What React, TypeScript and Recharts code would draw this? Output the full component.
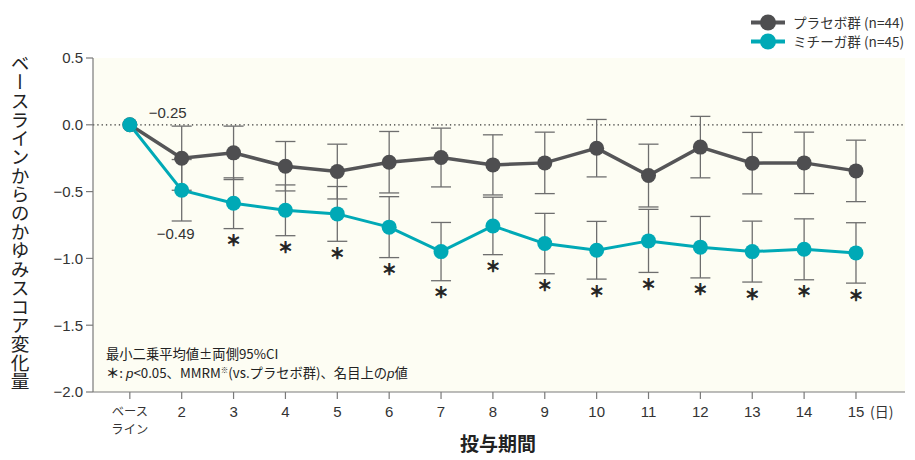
import React from 'react';
import { LineChart, Line, XAxis, YAxis, CartesianGrid, ReferenceLine, ErrorBar } from 'recharts';

const days = [1, 2, 3, 4, 5, 6, 7, 8, 9, 10, 11, 12, 13, 14, 15];
const xTickLabels = ['ベースライン', '2', '3', '4', '5', '6', '7', '8', '9', '10', '11', '12', '13', '14', '15'];
const yTicks = [-2, -1.5, -1, -0.5, 0, 0.5];

const placeboMean = [0, -0.25, -0.21, -0.31, -0.35, -0.28, -0.245, -0.30, -0.285, -0.175, -0.38, -0.167, -0.287, -0.285, -0.345];
const placeboCI = [null, 0.24, 0.20, 0.185, 0.205, 0.23, 0.22, 0.225, 0.23, 0.215, 0.235, 0.23, 0.23, 0.23, 0.23];
const mitigaMean = [0, -0.49, -0.587, -0.64, -0.667, -0.766, -0.949, -0.757, -0.889, -0.939, -0.869, -0.916, -0.949, -0.932, -0.959];
const mitigaCI = [null, 0.23, 0.19, 0.19, 0.205, 0.228, 0.218, 0.215, 0.226, 0.216, 0.236, 0.23, 0.228, 0.228, 0.226];
const significant = [false, false, true, true, true, true, true, true, true, true, true, true, true, true, true];

const seriesNames = ['プラセボ群 (n=44)', 'ミチーガ群 (n=45)'];

const data = days.map((d, i) => ({
  day: d,
  placebo: placeboMean[i],
  pErr: placeboCI[i],
  mitiga: mitigaMean[i],
  mErr: mitigaCI[i],
  mLo: mitigaCI[i] != null ? mitigaMean[i] - (mitigaCI[i] as number) : null,
}));

const LATIN = '"Liberation Sans", Arial, sans-serif';
const JP = '"Noto Sans CJK JP", sans-serif';
const GRAY = '#555557';
const TEAL = '#00a9b6';
const AXIS = '#7a7a7a';

const fmt = (v: number) => (v < 0 ? '\u2212' + Math.abs(v).toFixed(2) : v.toFixed(2));
const fmtY = (v: number) => (v < 0 ? '\u2212' + Math.abs(v).toFixed(1) : v.toFixed(1));

const XTick = (props: any) => {
  const { x, y, payload } = props;
  const idx = days.indexOf(payload.value);
  const label = xTickLabels[idx];
  if (idx === 0) {
    return (
      <text x={x} y={y + 15} textAnchor="middle" fontFamily={JP} fontSize={12.3} fill="#333">
        <tspan x={x} dy={0}>ベース</tspan>
        <tspan x={x} dy={18}>ライン</tspan>
      </text>
    );
  }
  return (
    <text x={x} y={y + 16} textAnchor="middle" fontFamily={LATIN} fontSize={15} fill="#333">{label}</text>
  );
};

const placeboLabel = (props: any) => {
  const { x, y, index } = props;
  if (index !== 1) return null;
  return (
    <text key="pl" x={x - 14} y={y - 40} textAnchor="middle" fontFamily={LATIN} fontSize={15} fill="#333">{fmt(placeboMean[1])}</text>
  );
};

const mitigaLabel = (props: any) => {
  const { x, y, index } = props;
  if (index !== 1) return null;
  return (
    <text key="ml" x={x - 6} y={y + 49} textAnchor="middle" fontFamily={LATIN} fontSize={15} fill="#333">{fmt(mitigaMean[1])}</text>
  );
};

const starLabel = (props: any) => {
  const { x, y, index } = props;
  if (!significant[index]) return null;
  return (
    <text key={'s' + index} x={x} y={y + 11} textAnchor="middle" dominantBaseline="central" fontFamily={JP} fontWeight={700} fontSize={15} fill="#222" stroke="#222" strokeWidth={0.7}>＊</text>
  );
};

export default function App() {
  return (
    <div style={{ position: 'absolute', left: 0, top: 0, width: 915, height: 460, background: '#fff' }}>
      <LineChart width={915} height={460} data={data} margin={{ top: 58, right: 10, bottom: 18, left: 0 }}>
        <CartesianGrid horizontal={false} vertical={false} fill="#fdfdf3" />
        <XAxis
          dataKey="day"
          type="number"
          domain={[0.29, 15.945]}
          ticks={days}
          allowDataOverflow
          height={50}
          tick={<XTick />}
          tickSize={7}
          tickMargin={2}
          axisLine={{ stroke: AXIS, strokeWidth: 1.2 }}
          tickLine={{ stroke: AXIS, strokeWidth: 1.2 }}
        />
        <YAxis
          type="number"
          domain={[-2, 0.5]}
          ticks={yTicks}
          width={93}
          tickFormatter={fmtY}
          tickSize={7}
          tickMargin={3}
          tick={{ fontFamily: LATIN, fontSize: 15, fill: '#333' }}
          axisLine={{ stroke: AXIS, strokeWidth: 1.2 }}
          tickLine={{ stroke: AXIS, strokeWidth: 1.2 }}
        />
        <ReferenceLine y={0} stroke="#333" strokeWidth={1.3} strokeDasharray="1.3 3" />
        <Line
          dataKey="placebo"
          stroke={GRAY}
          strokeWidth={3.5}
          dot={{ r: 7.5, fill: '#4e4e50', stroke: 'none' }}
          activeDot={false}
          isAnimationActive={false}
          label={placeboLabel}
        >
          <ErrorBar dataKey="pErr" width={10} stroke="#6e6e6e" strokeWidth={1.3} direction="y" />
        </Line>
        <Line
          dataKey="mitiga"
          stroke={TEAL}
          strokeWidth={3}
          dot={{ r: 7.5, fill: TEAL, stroke: 'none' }}
          activeDot={false}
          isAnimationActive={false}
          label={mitigaLabel}
        >
          <ErrorBar dataKey="mErr" width={10} stroke="#6e6e6e" strokeWidth={1.3} direction="y" />
        </Line>
        <Line
          dataKey="mLo"
          stroke="none"
          dot={false}
          activeDot={false}
          isAnimationActive={false}
          label={starLabel}
        />
      </LineChart>

      <div
        style={{
          position: 'absolute',
          left: 10,
          top: 54,
          writingMode: 'vertical-rl',
          fontFamily: JP,
          fontSize: 18.7,
          lineHeight: 1,
          color: '#222',
          whiteSpace: 'nowrap',
        }}
      >
        ベースラインからのかゆみスコア変化量
      </div>

      <svg width={915} height={460} style={{ position: 'absolute', left: 0, top: 0, pointerEvents: 'none' }}>
        <line x1={751} y1={22.5} x2={785} y2={22.5} stroke={GRAY} strokeWidth={4} />
        <circle cx={768} cy={22.5} r={8} fill="#4e4e50" />
        <text x={793} y={27.5} fontFamily={JP} fontSize={13.6} fill="#333">{seriesNames[0]}</text>
        <line x1={751} y1={41.5} x2={785} y2={41.5} stroke={TEAL} strokeWidth={4} />
        <circle cx={768} cy={41.5} r={8} fill={TEAL} />
        <text x={793} y={46.5} fontFamily={JP} fontSize={13.6} fill="#333">{seriesNames[1]}</text>

        <text x={106} y={359} fontFamily={JP} fontSize={13.3} fill="#222">最小二乗平均値±両側95%CI</text>
        <text x={106} y={378} fontFamily={JP} fontSize={13.3} fill="#222">
          <tspan fontWeight={700}>＊</tspan>
          <tspan>: </tspan>
          <tspan fontStyle="italic" fontFamily={LATIN}>p</tspan>
          <tspan>&lt;0.05、MMRM</tspan>
          <tspan fontSize={7.5} dy={-5}>※</tspan>
          <tspan dy={5}>(vs.プラセボ群)、名目上の</tspan>
          <tspan fontStyle="italic" fontFamily={LATIN}>p</tspan>
          <tspan>値</tspan>
        </text>

        <text x={870} y={417} fontFamily={JP} fontSize={14} fill="#333">(日)</text>
        <text x={498} y={451} textAnchor="middle" fontFamily={JP} fontWeight={700} fontSize={19} fill="#222">投与期間</text>
      </svg>
    </div>
  );
}
